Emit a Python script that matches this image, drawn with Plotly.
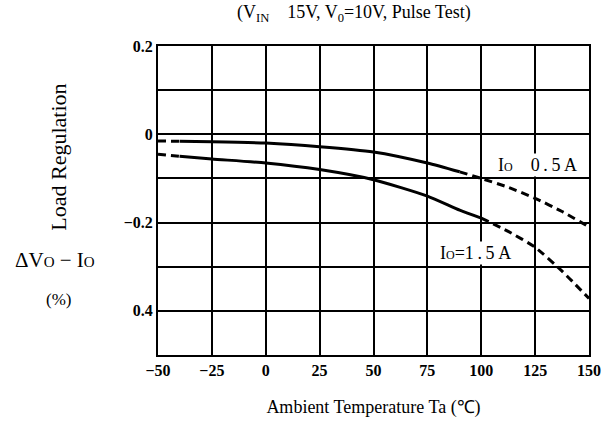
import plotly.graph_objects as go

# Data
temps = [-50, -40, -25, 0, 25, 50, 75, 90, 100, 112.5, 125, 137.5, 150]
reg_05A = [-0.015, -0.016, -0.017, -0.020, -0.028, -0.040, -0.065, -0.085, -0.100, -0.120, -0.145, -0.175, -0.210]
reg_15A = [-0.045, -0.050, -0.056, -0.065, -0.080, -0.103, -0.140, -0.172, -0.190, -0.220, -0.256, -0.310, -0.372]
split_05A = (1, 7)   # solid between these indices
split_15A = (1, 8)

x_ticks = [-50, -25, 0, 25, 50, 75, 100, 125, 150]
x_ticktext = ["\u221250", "\u221225", "0", "25", "50", "75", "100", "125", "150"]
y_ticks = [0.2, 0, -0.2, -0.4]
y_ticktext = ["0.2", "0", "\u22120.2", "0.4"]

FONT = "Liberation Serif"
fig = go.Figure()


def add_series(xs, ys, split):
    a, b = split
    segs = [(0, a, "8px,5px"), (a, b, "solid"), (b, len(xs) - 1, "8px,5px")]
    for s, e, d in segs:
        fig.add_trace(go.Scatter(
            x=xs[s:e + 1], y=ys[s:e + 1], mode="lines",
            line=dict(color="black", width=3, dash=d, shape="spline", smoothing=0.6),
            showlegend=False, hoverinfo="skip"))


add_series(temps, reg_05A, split_05A)
add_series(temps, reg_15A, split_15A)

ts = "\u2009"
small = "<span style='font-size:12px'>O</span>"
fig.add_annotation(x=126, y=-0.07, text="I" + small + "    0" + ts + "." + ts + "5" + ts + "A",
                   showarrow=False, xanchor="center", yanchor="middle",
                   font=dict(family=FONT, size=18, color="black"), bgcolor="white")
fig.add_annotation(x=97.5, y=-0.269, text="I" + small + "=1" + ts + "." + ts + "5" + ts + "A",
                   showarrow=False, xanchor="center", yanchor="middle",
                   font=dict(family=FONT, size=18, color="black"), bgcolor="white")

fig.add_annotation(xref="paper", yref="paper", x=0.455, y=1.0, yshift=33,
                   xanchor="center", yanchor="middle",
                   text="(V<sub>IN</sub>    15V, V<sub>0</sub>=10V, Pulse Test)",
                   showarrow=False, font=dict(family=FONT, size=18, color="black"))
fig.add_annotation(xref="paper", yref="paper", x=-0.231, y=0.64, textangle=-90,
                   xanchor="center", yanchor="middle",
                   text="Load Regulation", showarrow=False,
                   font=dict(family=FONT, size=22, color="black"))
fig.add_annotation(xref="paper", yref="paper", x=-0.24, y=0.307,
                   xanchor="center", yanchor="middle",
                   text="\u0394V" + "<span style='font-size:15px'>O</span>" + " \u2212 I" + "<span style='font-size:15px'>O</span>",
                   showarrow=False, font=dict(family=FONT, size=21, color="black"))
fig.add_annotation(xref="paper", yref="paper", x=-0.231, y=0.178,
                   xanchor="center", yanchor="middle",
                   text="(%)", showarrow=False,
                   font=dict(family=FONT, size=17, color="black"))

fig.update_layout(
    width=613, height=430,
    margin=dict(l=158, r=18, t=46, b=75),
    paper_bgcolor="white", plot_bgcolor="white",
    font=dict(family=FONT, color="black"),
    showlegend=False,
)
fig.update_xaxes(
    range=[-50, 150], tickvals=x_ticks, ticktext=x_ticktext,
    showgrid=True, gridcolor="black", gridwidth=1.5,
    showline=True, linecolor="black", linewidth=2, mirror=True,
    ticks="", tickfont=dict(family=FONT, size=16, color="black", weight="bold"),
    title=dict(text="Ambient Temperature Ta (\u2103)", font=dict(family=FONT, size=18, color="black"), standoff=22),
    zeroline=False,
)
fig.update_yaxes(
    range=[-0.5, 0.2], tickvals=y_ticks, ticktext=y_ticktext,
    showgrid=True, gridcolor="black", gridwidth=1.5,
    minor=dict(dtick=0.1, tick0=0, showgrid=True, gridcolor="black", gridwidth=1.5),
    showline=True, linecolor="black", linewidth=2, mirror=True,
    ticks="", tickfont=dict(family=FONT, size=16, color="black", weight="bold"),
    zeroline=False,
)

fig.write_html("out.html", config={"displayModeBar": False},
               post_script="document.body.style.margin='0';")
